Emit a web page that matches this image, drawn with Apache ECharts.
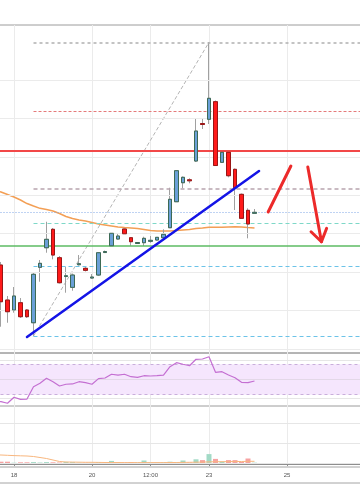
<!DOCTYPE html>
<html><head><meta charset="utf-8">
<script src="https://cdn.jsdelivr.net/npm/echarts@6/dist/echarts.min.js"></script>
<style>html,body{margin:0;padding:0;background:#fff}#c{width:360px;height:504px}</style>
</head><body><div id="c"></div>
<script>
// 4-hour candles, January
const categories = [
'01-17 12:00','01-17 16:00','01-17 20:00',
'01-18 00:00','01-18 04:00','01-18 08:00','01-18 12:00','01-18 16:00','01-18 20:00',
'01-19 00:00','01-19 04:00','01-19 08:00','01-19 12:00','01-19 16:00','01-19 20:00',
'01-20 00:00','01-20 04:00','01-20 08:00','01-20 12:00','01-20 16:00','01-20 20:00',
'01-21 00:00','01-21 04:00','01-21 08:00','01-21 12:00','01-21 16:00','01-21 20:00',
'01-22 00:00','01-22 04:00','01-22 08:00','01-22 12:00','01-22 16:00','01-22 20:00',
'01-23 00:00','01-23 04:00','01-23 08:00','01-23 12:00','01-23 16:00','01-23 20:00',
'01-24 00:00','01-24 04:00','01-24 08:00','01-24 12:00','01-24 16:00','01-24 20:00',
'01-25 00:00','01-25 04:00','01-25 08:00','01-25 12:00','01-25 16:00','01-25 20:00',
'01-26 00:00','01-26 04:00','01-26 08:00','01-26 12:00','01-26 16:00','01-26 20:00',
'01-27 00:00'];
const tickLabels = {'01-18 00:00':'18','01-20 00:00':'20','01-21 12:00':'12:00','01-23 00:00':'23','01-25 00:00':'25'};

// [open, close, low, high]
const candles = [
[3430,3418,3405,3440],
[3418.2,3322.6,3257.5,3426.0],
[3327.0,3296.6,3267.9,3337.5],
[3301.0,3337.5,3294.0,3360.9],
[3320.0,3283.6,3280.2,3332.2],
[3301.0,3283.6,3280.2,3303.6],
[3267.9,3394.0,3233.3,3400.0],
[3412.2,3422.6,3374.7,3431.2],
[3463.2,3485.1,3450.2,3530.9],
[3511.2,3444.2,3433.0,3514.6],
[3437.2,3372.1,3370.0,3441.6],
[3388.2,3390.3,3346.1,3413.8],
[3360.1,3392.1,3351.3,3396.0],
[3419.0,3421.6,3416.9,3444.2],
[3409.6,3404.4,3401.3,3413.0],
[3384.3,3386.9,3383.0,3394.7],
[3392.1,3450.2,3389.5,3452.0],
[3450.7,3453.3,3449.4,3455.9],
[3468.4,3500.7,3467.7,3501.5],
[3485.9,3493.7,3484.6,3498.9],
[3512.0,3499.7,3498.9,3513.3],
[3489.3,3478.9,3468.4,3491.1],
[3474.2,3476.8,3472.9,3478.1],
[3476.3,3487.7,3467.7,3491.9],
[3479.9,3482.5,3476.3,3493.7],
[3483.3,3490.3,3482.0,3491.1],
[3489.3,3498.1,3488.5,3511.2],
[3515.3,3589.3,3514.6,3619.5],
[3583.0,3663.8,3582.2,3665.6],
[3632.5,3646.6,3617.9,3648.7],
[3640.1,3637.5,3631.0,3644.0],
[3689.0,3767.1,3686.4,3800.2],
[3786.7,3784.1,3772.4,3800.2],
[3797.6,3852.3,3785.4,3998.1],
[3843.5,3677.3,3676.0,3846.6],
[3685.6,3711.7,3683.8,3712.5],
[3711.7,3650.7,3646.6,3712.5],
[3667.4,3619.5,3561.4,3669.5],
[3602.3,3539.8,3538.0,3604.4],
[3560.6,3525.0,3487.7,3565.8],
[3552.8,3555.4,3551.5,3564.0]];

const maLine = [3613.5,3608.3,3601.8,3595.3,3587.5,3578.3,3571.8,3565.8,3562.7,3558.8,3552.3,3544.5,3539.3,3535.4,3532.8,3528.9,3525.0,3522.4,3519.8,3517.2,3515.8,3514.5,3513.2,3510.6,3508.0,3506.7,3506.7,3506.7,3508.0,3509.3,3510.6,3513.2,3514.5,3516.4,3516.4,3516.4,3517.2,3517.9,3517.2,3515.8,3514.5];

const rsi = [21.6,20.7,18.6,26.5,23.8,24.2,40.5,45.0,51.6,47.1,41.4,43.7,44.1,47.1,45.8,43.7,51.1,52.0,56.9,55.9,56.9,53.7,52.9,55.0,54.6,55.0,55.9,66.9,72.2,70.1,68.2,76.7,77.1,80.1,59.5,60.3,55.9,52.4,46.3,45.8,48.0];

const volumes = [8,8,8,3,5,5,6,4,6,5,4,7,6,3,3,3,5,3,12,4,4,6,4,14,4,4,5,8,6,14,4,20,16,46,22,8,16,16,7,24,3];
const volumeMA = [42,41.5,40,38.5,37.5,36.5,34,29,24,16.5,9,6.5,6,5.5,5,5,4.5,4,4,4,3.5,3.5,3.5,3.5,3.5,3.5,3.5,4,4,4.5,5,5.5,6,7,8,8,8.5,9,9,10,10];

const gridLevels = [3200,3300,3400,3500,3600,3700,3800,3900];
const volumeGridLevels = [0,100,200];
const rsiGridLevels = [25,50,75];
const rsiBand = [30,70];

// Fibonacci retracement (from candle index 3 low to index 30 high)
const fibFrom = 3, fibTo = 54;
const fibValues = [3998.1,3819.2,3616.1,3526.8,3414.8,3233.3];
const fibDiagonal = [[3,3233.3],[30,3998.1]];
const resistanceLevel = 3715.1;
const lastPrice = 3555.4;
const supportLevel = 3467.7;
const trendLine = [[2.0,3230.7],[37.7,3663.0]];
const arrowUp = [[39.1,3556.2],[42.6,3676.0]];
const arrowDown = [[45.2,3673.4],[47.3,3478.9]];
const arrowHead = [[45.7,3504.9],[47.3,3478.9],[48.1,3513.8]];

const isUp = candles.map(c => c[1] >= c[0]);
const bodies = candles.map(c => [c[0], c[1], Math.min(c[0],c[1]), Math.max(c[0],c[1])]);
const tickInterval = (i, v) => tickLabels[v] !== undefined;
const vGrid = {show:true, interval:tickInterval, lineStyle:{color:'#ebebeb', width:1}};
const fibStyles = [
  {color:'#b0b0b0', width:1.5, type:[3,3]},
  {color:'#e57a7a', width:1, type:[3,2]},
  {color:'#b8a4ae', width:1.5, type:[4,3]},
  {color:'#7ed8c8', width:1, type:[4,3]},
  {color:'#6cc3e8', width:1, type:[4,3]},
  {color:'#6cc3e8', width:1, type:[4,3]}
];
const ml = (data) => ({silent:true, symbol:['none','none'], label:{show:false}, animation:false, emphasis:{disabled:true}, data});
const segLine = (data, color, width, z, type) => ({
  type:'line', xAxisIndex:1, yAxisIndex:0, data, symbol:'none', silent:true, z,
  lineStyle:{color, width, type: type || 'solid', cap:'round', join:'round'}, animation:false
});
const gridBase = {left:-5.5, right:-5, outerBoundsMode:'none', containLabel:false};

const chart = echarts.init(document.getElementById('c'), null, {renderer:'canvas'});
chart.setOption({
  animation:false,
  backgroundColor:'#ffffff',
  grid:[
    Object.assign({top:25, height:328, show:true, borderColor:'#9c9c9c', borderWidth:1}, gridBase),
    Object.assign({top:353, height:53, show:true, borderColor:'#9c9c9c', borderWidth:1}, gridBase),
    Object.assign({top:406, height:61}, gridBase),
    Object.assign({top:467, height:16, show:true, borderColor:'#a4a4a4', borderWidth:1}, gridBase)
  ],
  xAxis:[
    {type:'category', gridIndex:0, data:categories, boundaryGap:false, axisLine:{show:false}, axisTick:{show:false}, axisLabel:{show:false}, splitLine:vGrid},
    {type:'value', gridIndex:0, min:-3, max:54, show:false},
    {type:'category', gridIndex:1, data:categories, boundaryGap:false, axisLine:{show:false}, axisTick:{show:false}, axisLabel:{show:false}, splitLine:vGrid},
    {type:'category', gridIndex:2, data:categories, boundaryGap:false,
      axisLine:{show:true, lineStyle:{color:'#8e8e8e', width:2}},
      axisTick:{show:true, interval:tickInterval, length:3, lineStyle:{color:'#8e8e8e'}},
      axisLabel:{show:true, interval:tickInterval, formatter:v => tickLabels[v] || '', fontSize:6, color:'#555', margin:5, fontFamily:'Liberation Sans'},
      splitLine:vGrid},
    {type:'category', gridIndex:3, data:categories, boundaryGap:false, show:false}
  ],
  yAxis:[
    {type:'value', gridIndex:0, min:3189.1, max:4043.2, show:false},
    {type:'value', gridIndex:1, min:15, max:85, show:false},
    {type:'value', gridIndex:2, min:-18.5, max:286.5, show:false},
    {type:'value', gridIndex:3, min:0, max:1, show:false}
  ],
  series:[
    {type:'line', xAxisIndex:0, yAxisIndex:0, data:[], z:1, silent:true,
      markLine: ml(gridLevels.map(v => ({yAxis:v, lineStyle:{color:'#ebebeb', width:1, type:'solid'}})))},
    {type:'line', xAxisIndex:0, yAxisIndex:0, data:[], z:2, silent:true,
      markLine: ml([
        {yAxis:resistanceLevel, lineStyle:{color:'#f24848', width:2, type:'solid'}},
        {yAxis:lastPrice, lineStyle:{color:'#7fa7e6', width:1, type:[1,2]}},
        {yAxis:supportLevel, lineStyle:{color:'#5dbb63', width:1.5, type:'solid'}}
      ])},
    Object.assign(segLine(fibDiagonal, '#b5b5b5', 1, 2, [3,3]), {
      markLine: ml(fibValues.map((v, i) => [{coord:[fibFrom, v], lineStyle:fibStyles[i]}, {coord:[fibTo, v]}]))
    }),
    {type:'line', name:'MA', xAxisIndex:0, yAxisIndex:0, data:maLine, symbol:'none', z:3, silent:true,
      lineStyle:{color:'#f39f55', width:1.5}},
    {type:'candlestick', xAxisIndex:0, yAxisIndex:0, data:candles, barWidth:4, z:4, silent:true,
      itemStyle:{color:'#6aa0d8', color0:'#ff1a1a', borderColor:'#a0a0a0', borderColor0:'#a0a0a0', borderWidth:1}},
    {type:'candlestick', xAxisIndex:0, yAxisIndex:0, data:bodies, barWidth:4, z:5, silent:true,
      itemStyle:{color:'#6aa0d8', color0:'#ff1a1a', borderColor:'#3d6a55', borderColor0:'#9a1515', borderWidth:1}},
    segLine(trendLine, '#1414e6', 2.5, 6),
    segLine(arrowUp, '#ec2a2a', 3, 7),
    segLine(arrowDown, '#ec2a2a', 3, 7),
    segLine(arrowHead, '#ec2a2a', 3, 7),
    {type:'line', name:'RSI', xAxisIndex:2, yAxisIndex:1, data:rsi, symbol:'none', z:5, silent:true,
      lineStyle:{color:'#c46fd2', width:1.2},
      markArea:{silent:true, itemStyle:{color:'#f5e6fd'}, data:[[{yAxis:rsiBand[0]},{yAxis:rsiBand[1]}]]},
      markLine: ml([
        {yAxis:rsiGridLevels[0], lineStyle:{color:'#e6e6e6', width:1, type:'solid'}},
        {yAxis:rsiGridLevels[1], lineStyle:{color:'#e3d8e8', width:1, type:'solid'}},
        {yAxis:rsiGridLevels[2], lineStyle:{color:'#e6e6e6', width:1, type:'solid'}},
        {yAxis:rsiBand[0], lineStyle:{color:'#c9aedb', width:1, type:[3,3]}},
        {yAxis:rsiBand[1], lineStyle:{color:'#c9aedb', width:1, type:[3,3]}}
      ])},
    {type:'bar', name:'Volume', xAxisIndex:3, yAxisIndex:2, barWidth:5, z:3, silent:true,
      data: volumes.map((v, i) => ({value:v, itemStyle:{color: isUp[i] ? '#a2dac6' : '#f6a2a2'}})),
      markLine: ml(volumeGridLevels.map(v => ({yAxis:v, lineStyle:{color:'#e6e6e6', width:1, type:'solid'}})))},
    {type:'line', name:'Vol MA', xAxisIndex:3, yAxisIndex:2, data:volumeMA, symbol:'none', z:4, silent:true,
      lineStyle:{color:'#f8b67e', width:1}}
  ]
});
</script></body></html>
